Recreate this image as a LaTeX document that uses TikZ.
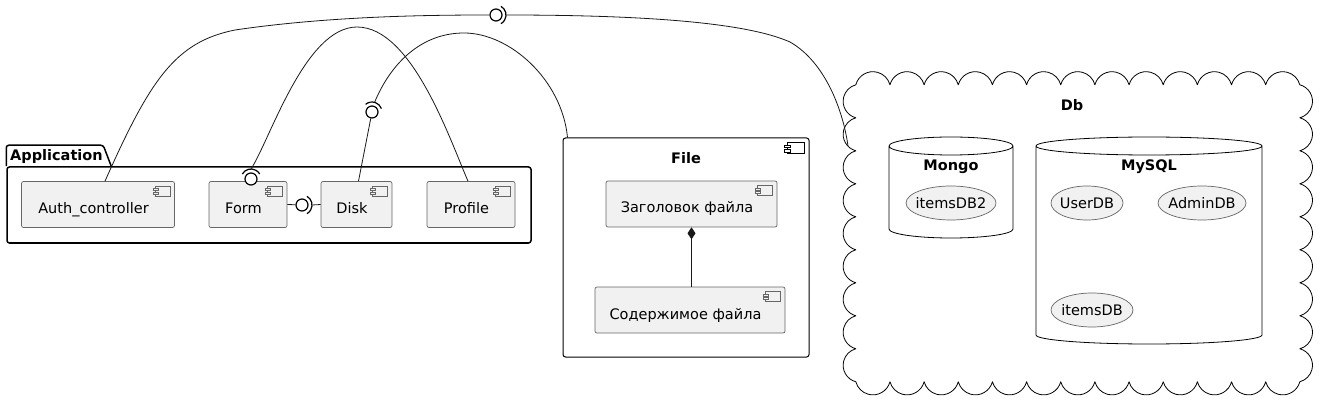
\documentclass[tikz,border=0pt]{standalone}
\usepackage{fontspec}
\setmainfont{DejaVu Sans}
\usepackage{xcolor}
\definecolor{colorComponent}{HTML}{F1F1F1}
\colorlet{colorBorder}{black!60}
\colorlet{colorLink}{black!90}
\usepackage{tikz}
\usetikzlibrary{arrows.meta, positioning, shapes.geometric}
\tikzset{
  component/.style={draw=colorBorder, fill=colorComponent, line width=0.7pt, rounded corners=2pt,
    minimum height=46, inner sep=0pt, text height=22pt, text depth=4pt,
    execute at end node=\hspace{9pt}},
  usecase/.style={ellipse, draw=colorBorder, fill=colorComponent, line width=0.7pt,
    minimum height=34, inner xsep=-4pt, inner ysep=0pt},
  container/.style={draw, line width=1pt, rounded corners=2.5pt, inner sep=0pt},
  title/.style={font=\bfseries\fontsize{14.5}{17}\selectfont, anchor=base, inner sep=0pt},
  iface/.style={circle, draw, fill=white, line width=1.2pt, minimum size=12, inner sep=0pt},
  socket/.style={line width=1.2pt},
  icon/.style={draw=colorBorder, fill=colorComponent, line width=0.6pt},
  link/.style={draw=colorLink, line width=0.8pt},
  dbCloud/.style={draw, line width=0.8pt, line join=round},
  dbShape/.style={draw, fill=white, line width=0.8pt}
}

\begin{document}
\begin{tikzpicture}[x=1pt, y=-1pt, font=\fontsize{14.5}{17}\selectfont]
\useasboundingbox (0,0) rectangle (1321,403);

% package Application
\node[container, line width=1.5pt, minimum width=524, minimum height=76] (app) at (269,205) {};
\draw[line width=1.5pt, rounded corners=2.5pt] (app.north west) -- ++(0,-21) -- ++(97,0) -- ([shift={(105,0)}]app.north west);
\node[title, anchor=base west] (appTitle) at (10,161) {Application};

\node[component, minimum width=153] (auth) at (98,204.5) {Auth\_controller};
\node[component, minimum width=78] (form) at (248,204.5) {Form};
\node[component, minimum width=71] (disk) at (356.5,204.5) {Disk};
\node[component, minimum width=88] (profile) at (471,204.5) {Profile};

% component File
\node[container, minimum width=246, minimum height=219] (file) at (686,247.5) {};
\node[title] (fileTitle) at (686,164) {File};
\draw[line width=1pt] ([shift={(-22,5)}]file.north east) rectangle ++(17,11);
\draw[line width=1pt, fill=white] ([shift={(-25,8)}]file.north east) rectangle ++(6,2.5);
\draw[line width=1pt, fill=white] ([shift={(-25,12.5)}]file.north east) rectangle ++(6,2.5);

\node[component, minimum width=171] (head) at (691.5,204) {Заголовок файла};
\node[component, minimum width=190] (body) at (690,310) {Содержимое файла};

% cloud Db
\node[minimum width=444, minimum height=297, inner sep=0pt] (db) at (1078,233.5) {};
\draw[dbCloud] (db.north west)
  \foreach \i in {1,...,13} { arc[start angle=195, end angle=345, radius=17.68] }
  \foreach \i in {1,...,9} { arc[start angle=-75, end angle=75, radius=17.08] }
  \foreach \i in {1,...,13} { arc[start angle=15, end angle=165, radius=17.68] }
  \foreach \i in {1,...,9} { arc[start angle=105, end angle=255, radius=17.08] } -- cycle;
\node[title] (dbTitle) at (1072,111) {Db};
\coordinate (dbIn) at (848,146);

% databases
\draw[dbShape] (889,146) -- (889,229) arc[start angle=180, end angle=0, x radius=62, y radius=9] -- (1013,146)
  arc[start angle=0, end angle=-180, x radius=62, y radius=9] arc[start angle=180, end angle=0, x radius=62, y radius=9];
\node[title] (mongoTitle) at (951,171) {Mongo};
\draw[dbShape] (1036,146) -- (1036,335) arc[start angle=180, end angle=0, x radius=113, y radius=9] -- (1262,146)
  arc[start angle=0, end angle=-180, x radius=113, y radius=9] arc[start angle=180, end angle=0, x radius=113, y radius=9];
\node[title] (mysqlTitle) at (1149,171) {MySQL};

\node[usecase, minimum width=90] (itemsDBtwo) at (951,203) {itemsDB2};
\node[usecase, minimum width=72] (userDB) at (1087,203) {UserDB};
\node[usecase, minimum width=88] (adminDB) at (1202,203) {AdminDB};
\node[usecase, minimum width=82] (itemsDB) at (1092,310) {itemsDB};

% component icons
\foreach \n in {auth, form, disk, profile, head, body} {
  \draw[icon] ([shift={(-20,5)}]\n.north east) rectangle ++(15,10);
  \draw[icon] ([shift={(-22,7.5)}]\n.north east) rectangle ++(5,2);
  \draw[icon] ([shift={(-22,11)}]\n.north east) rectangle ++(5,2);
}

% interfaces
\node[iface] (ifTop) at (496,15) {};
\node[iface] (ifForm) at (251,179) {};
\node[iface] (ifDisk) at (372,112) {};
\node[iface] (ifFD) at (302,205) {};
\draw[socket] ([shift={(-60:10)}]ifTop.center) arc[start angle=-60, end angle=60, radius=10];
\draw[socket] ([shift={(-150:10)}]ifForm.center) arc[start angle=-150, end angle=-30, radius=10];
\draw[socket] ([shift={(-130:10)}]ifDisk.center) arc[start angle=-130, end angle=-20, radius=10];
\draw[socket] ([shift={(-60:10)}]ifFD.center) arc[start angle=-60, end angle=60, radius=10];

% links
\draw[link] ([shift={(7,0)}]auth.north) .. controls (150,80) and (175,42) .. (235,30) .. controls (330,16) and (430,15) .. (ifTop.west);
\draw[link] ([shift={(10,0)}]ifTop.center) .. controls (640,15) and (745,22) .. (790,42) .. controls (825,62) and (843,110) .. (dbIn);
\draw[link] ([shift={(0,-10)}]ifForm.center) .. controls (270,140) and (305,27) .. (357,27) .. controls (412,27) and (450,140) .. ([shift={(-3,0)}]profile.north);
\draw[link] ([shift={(2,0)}]disk.north) -- (ifDisk);
\draw[link] ([shift={(-75:10)}]ifDisk.center) .. controls (390,65) and (420,33) .. (464,33) .. controls (510,33) and (562,80) .. ([shift={(5,0)}]file.north west);
\draw[link] (form.east) -- (ifFD);
\draw[link] ([shift={(10,0)}]ifFD.center) -- (disk.west);
\draw[link, {Diamond[length=12pt, width=8pt]}-] (head.south) -- (head.south |- body.north);
\end{tikzpicture}
\end{document}
